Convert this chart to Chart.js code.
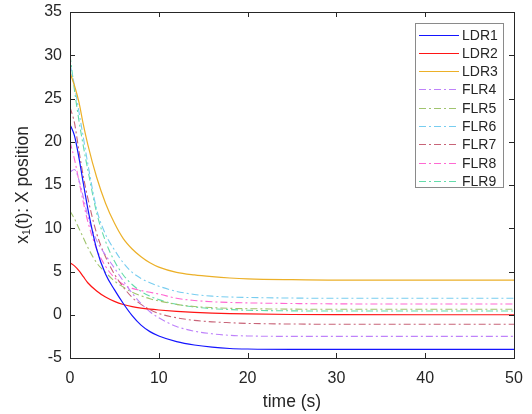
<!DOCTYPE html>
<html>
<head>
<meta charset="utf-8">
<script src="https://cdn.jsdelivr.net/npm/chart.js@4.4.1/dist/chart.umd.min.js"></script>
<style>
  body { margin: 0; background: #fff; }
  #wrap { width: 532px; height: 414px; }
</style>
</head>
<body>
<div id="wrap"><canvas id="myChart" width="532" height="414"></canvas></div>
<script>
// time samples (s)
const times = [0, 0.5, 1, 1.5, 2, 3, 4, 5, 6, 7, 8, 9, 10, 12, 14, 16, 18, 20, 25, 30, 40, 50];

// x position of each robot
const ldr1 = [22, 20.7, 18.2, 15.2, 12.3, 7.6, 4.7, 2.9, 1.3, -0.1, -1.2, -1.95, -2.45, -3.1, -3.5, -3.75, -3.9, -3.96, -4.0, -4.0, -4.0, -4.0];
const ldr2 = [6, 5.65, 5.1, 4.4, 3.7, 2.75, 2.05, 1.55, 1.18, 0.93, 0.76, 0.64, 0.55, 0.4, 0.28, 0.19, 0.13, 0.09, 0.03, 0.01, 0, 0];
const ldr3 = [28, 26.5, 24.6, 22.0, 19.7, 15.9, 12.9, 10.6, 8.8, 7.6, 6.7, 6.0, 5.5, 4.9, 4.6, 4.4, 4.25, 4.15, 4.05, 4.0, 4.0, 4.0];
const flr4 = [16.5, 16.8, 15.6, 13.6, 11.4, 8.6, 6.9, 5.4, 3.9, 2.5, 1.3, 0.35, -0.35, -1.35, -1.9, -2.2, -2.38, -2.45, -2.5, -2.5, -2.5, -2.5];
const flr5 = [12, 11.1, 10.0, 8.9, 7.8, 6.0, 4.9, 3.9, 3.2, 2.6, 2.2, 1.85, 1.6, 1.2, 0.95, 0.82, 0.74, 0.7, 0.65, 0.63, 0.63, 0.63];
const flr6 = [29, 26.5, 23.5, 20.5, 17.5, 12.2, 9.3, 7.5, 6.0, 4.9, 4.2, 3.7, 3.3, 2.7, 2.35, 2.15, 2.05, 2.0, 1.93, 1.9, 1.9, 1.9];
const flr7 = [24, 22.2, 19.0, 16.0, 13.5, 9.4, 6.7, 4.7, 3.2, 2.0, 1.2, 0.6, 0.15, -0.35, -0.65, -0.82, -0.92, -1.0, -1.07, -1.1, -1.1, -1.1];
const flr8 = [20, 18.0, 15.5, 13.0, 10.8, 7.6, 5.6, 4.3, 3.5, 3.05, 2.8, 2.6, 2.4, 1.9, 1.65, 1.5, 1.42, 1.37, 1.3, 1.26, 1.24, 1.24];
const flr9 = [30, 26, 22.5, 19.5, 16.8, 11.8, 8.5, 6.2, 4.6, 3.5, 2.7, 2.15, 1.75, 1.2, 0.9, 0.7, 0.6, 0.52, 0.45, 0.43, 0.43, 0.43];

const names = ['LDR1', 'LDR2', 'LDR3', 'FLR4', 'FLR5', 'FLR6', 'FLR7', 'FLR8', 'FLR9'];
const series = [ldr1, ldr2, ldr3, flr4, flr5, flr6, flr7, flr8, flr9];
const colors = [
  'rgb(20,20,255)',
  'rgb(255,20,20)',
  'rgb(236,176,40)',
  'rgb(190,130,250)',
  'rgb(160,196,110)',
  'rgb(120,205,240)',
  'rgb(200,100,120)',
  'rgb(255,105,210)',
  'rgb(100,220,170)'
];
const dashDot = [7, 3, 2, 3];

const xTicks = [0, 10, 20, 30, 40, 50];
const yTicks = [-5, 0, 5, 10, 15, 20, 25, 30, 35];

const FONT = "'Liberation Sans', Arial, sans-serif";
const TEXT = '#262626';

const datasets = series.map((vals, i) => ({
  label: names[i],
  data: times.map((t, k) => ({ x: t, y: vals[k] })),
  borderColor: colors[i],
  borderWidth: i < 3 ? 1.2 : 1.1,
  borderDash: i < 3 ? [] : dashDot,
  pointRadius: 0,
  fill: false,
  cubicInterpolationMode: 'monotone'
}));

// box round the axes with inward ticks, like the original figure
const framePlugin = {
  id: 'frame',
  afterDatasetsDraw(chart) {
    const ctx = chart.ctx;
    const a = chart.chartArea;
    const xs = chart.scales.x, ys = chart.scales.y;
    ctx.save();
    ctx.strokeStyle = '#262626';
    ctx.lineWidth = 1;
    ctx.strokeRect(a.left + 0.5, a.top + 0.5, a.right - a.left, a.bottom - a.top);
    ctx.beginPath();
    xTicks.forEach(v => {
      const px = Math.round(xs.getPixelForValue(v)) + 0.5;
      ctx.moveTo(px, a.bottom); ctx.lineTo(px, a.bottom - 5);
      ctx.moveTo(px, a.top); ctx.lineTo(px, a.top + 5);
    });
    yTicks.forEach(v => {
      const py = Math.round(ys.getPixelForValue(v)) + 0.5;
      ctx.moveTo(a.left, py); ctx.lineTo(a.left + 5, py);
      ctx.moveTo(a.right, py); ctx.lineTo(a.right - 5, py);
    });
    ctx.stroke();
    ctx.restore();
  }
};

// legend box in the top right corner
const legendPlugin = {
  id: 'boxLegend',
  afterDraw(chart) {
    const ctx = chart.ctx;
    const a = chart.chartArea;
    const w = 88, h = 164;
    const left = a.right - 11 - w;
    const top = a.top + 11;
    ctx.save();
    ctx.fillStyle = '#fff';
    ctx.fillRect(left, top, w, h);
    ctx.strokeStyle = '#8a8a8a';
    ctx.lineWidth = 1;
    ctx.strokeRect(left + 0.5, top + 0.5, w, h);
    ctx.font = '14px ' + FONT;
    ctx.textBaseline = 'middle';
    chart.data.datasets.forEach((ds, i) => {
      const y = Math.round(top + 11.5 + i * 18.3) + 0.5;
      ctx.beginPath();
      ctx.setLineDash(ds.borderDash);
      ctx.strokeStyle = ds.borderColor;
      ctx.lineWidth = ds.borderWidth;
      ctx.moveTo(left + 4, y);
      ctx.lineTo(left + 44, y);
      ctx.stroke();
      ctx.setLineDash([]);
      ctx.fillStyle = TEXT;
      ctx.fillText(ds.label, left + 47, y + 1);
    });
    ctx.restore();
  }
};

const ctx = document.getElementById('myChart').getContext('2d');
new Chart(ctx, {
  type: 'line',
  data: { datasets: datasets },
  options: {
    responsive: false,
    animation: false,
    layout: { padding: { top: 12, right: 18, left: 0, bottom: 0 } },
    plugins: {
      legend: { display: false },
      tooltip: { enabled: false }
    },
    scales: {
      x: {
        type: 'linear',
        min: 0,
        max: 50,
        afterFit: (s) => { s.height = 56; },
        afterBuildTicks: (s) => { s.ticks = xTicks.map(v => ({ value: v })); },
        grid: { display: false },
        border: { display: false },
        ticks: { color: TEXT, font: { family: FONT, size: 16 }, padding: 3, maxRotation: 0 },
        title: { display: true, text: 'time (s)', color: TEXT, font: { family: FONT, size: 17.5 }, padding: { top: 2, bottom: 1 } }
      },
      y: {
        min: -5,
        max: 35,
        afterFit: (s) => { s.width = 70; },
        afterBuildTicks: (s) => { s.ticks = yTicks.map(v => ({ value: v })); },
        grid: { display: false },
        border: { display: false },
        ticks: { color: TEXT, font: { family: FONT, size: 16 }, padding: 0 },
        title: { display: true, text: 'x\u2081(t): X position', color: TEXT, font: { family: FONT, size: 17.5 }, padding: { top: 13, bottom: 2 } }
      }
    }
  },
  plugins: [framePlugin, legendPlugin]
});
</script>
</body>
</html>
